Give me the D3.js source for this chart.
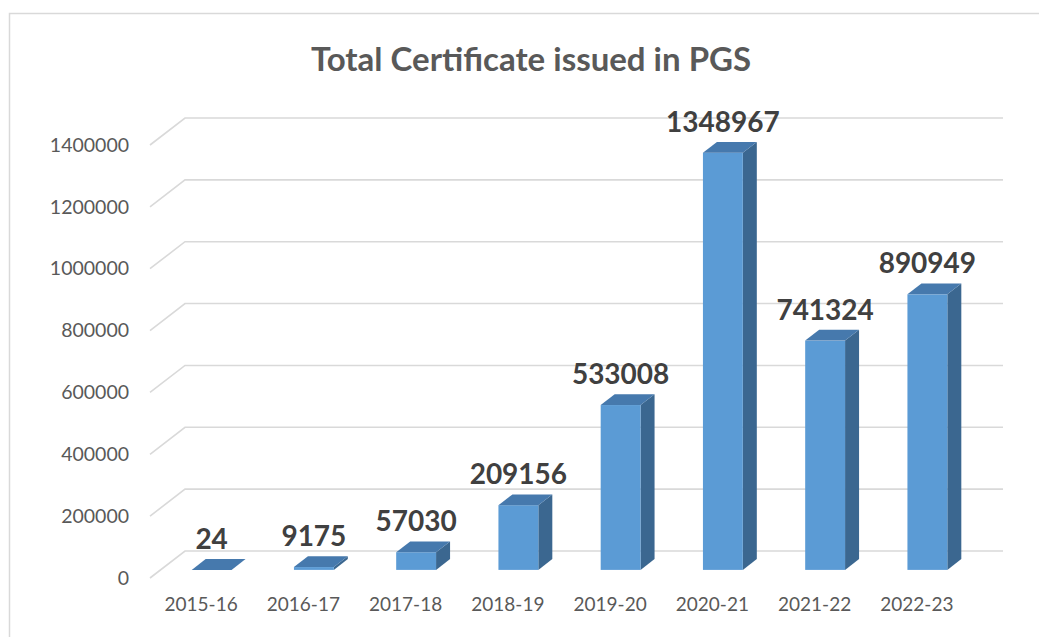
<!DOCTYPE html>
<html>
<head>
<meta charset="utf-8">
<script src="https://cdn.jsdelivr.net/npm/d3@7"></script>
<style>
  html, body { margin: 0; padding: 0; background: #fff; }
  svg { display: block; }
</style>
</head>
<body>
<svg id="chart" width="1039" height="637"></svg>
<script>
const categories = ["2015-16","2016-17","2017-18","2018-19","2019-20","2020-21","2021-22","2022-23"];
const values = [24, 9175, 57030, 209156, 533008, 1348967, 741324, 890949];
const yTicks = [0, 200000, 400000, 600000, 800000, 1000000, 1200000, 1400000];
const title = "Total Certificate issued in PGS";

const svg = d3.select("#chart");
const W = 1039, H = 637;

// 3D geometry
const depthX = 35, depthY = -27;          // full floor depth offset (front -> back wall)
const barStart = 0.3, barDepth = 0.4;     // bar position within depth

const x = d3.scaleBand().domain(categories).range([150, 968]).paddingInner(0).paddingOuter(0);
const y = d3.scaleLinear().domain([0, 1400000]).range([578, 145]);
const barW = x.bandwidth() * 0.39;

// chart border
svg.append("rect")
  .attr("x", 9.5).attr("y", 13.5)
  .attr("width", W + 20).attr("height", H + 20)
  .attr("fill", "none").attr("stroke", "#d9d9d9").attr("stroke-width", 1.5);

// title
svg.append("text")
  .attr("x", 531).attr("y", 71)
  .attr("text-anchor", "middle")
  .attr("font-family", "Lato, 'Open Sans', sans-serif")
  .attr("font-weight", "bold")
  .attr("font-size", 33)
  .attr("fill", "#595959")
  .text(title);

// gridlines (side wall slant + back wall)
const grid = svg.append("g");
yTicks.forEach(t => {
  const yf = y(t);
  grid.append("path")
    .attr("d", `M150,${yf} L${150 + depthX},${yf + depthY} L${968 + depthX},${yf + depthY}`)
    .attr("fill", "none")
    .attr("stroke", "#d9d9d9")
    .attr("stroke-width", 1.6);
});

// y axis labels
const yAxis = d3.axisLeft(y).tickValues(yTicks).tickFormat(d3.format("d")).tickSize(0).tickPadding(0);
const yg = svg.append("g").attr("transform", "translate(129,0)").call(yAxis);
yg.select(".domain").remove();
yg.selectAll("text")
  .attr("font-family", "Lato, 'Open Sans', sans-serif")
  .attr("font-size", 19.5)
  .attr("fill", "#595959");

// x axis labels
const xAxis = d3.axisBottom(x).tickSize(0).tickPadding(0);
const xg = svg.append("g").attr("transform", "translate(0,597)").call(xAxis);
xg.select(".domain").remove();
xg.selectAll("text")
  .attr("font-family", "Lato, 'Open Sans', sans-serif")
  .attr("font-size", 19)
  .attr("fill", "#595959");

// bars
const ox = depthX * barStart, oy = depthY * barStart;
const dx = depthX * barDepth, dy = depthY * barDepth;
const bars = svg.append("g");
categories.forEach((c, i) => {
  const v = values[i];
  const cx = x(c) + x.bandwidth() / 2 + ox;
  const x0 = cx - barW / 2, x1 = cx + barW / 2;
  const yb = y(0) + oy;
  const yt = y(v) + oy;
  // side
  bars.append("path")
    .attr("d", `M${x1},${yt} L${x1 + dx},${yt + dy} L${x1 + dx},${yb + dy} L${x1},${yb} Z`)
    .attr("fill", "#3b6790");
  // front
  bars.append("rect")
    .attr("x", x0).attr("y", yt)
    .attr("width", barW).attr("height", Math.max(0, yb - yt))
    .attr("fill", "#5b9bd5");
  // top
  bars.append("path")
    .attr("d", `M${x0},${yt} L${x1},${yt} L${x1 + dx},${yt + dy} L${x0 + dx},${yt + dy} Z`)
    .attr("fill", "#4679ad");
  // label
  bars.append("text")
    .attr("x", cx).attr("y", yt - 21)
    .attr("text-anchor", "middle")
    .attr("font-family", "Lato, 'Open Sans', sans-serif")
    .attr("font-weight", "bold")
    .attr("font-size", 28)
    .attr("fill", "#404040")
    .text(v);
});
</script>
</body>
</html>
